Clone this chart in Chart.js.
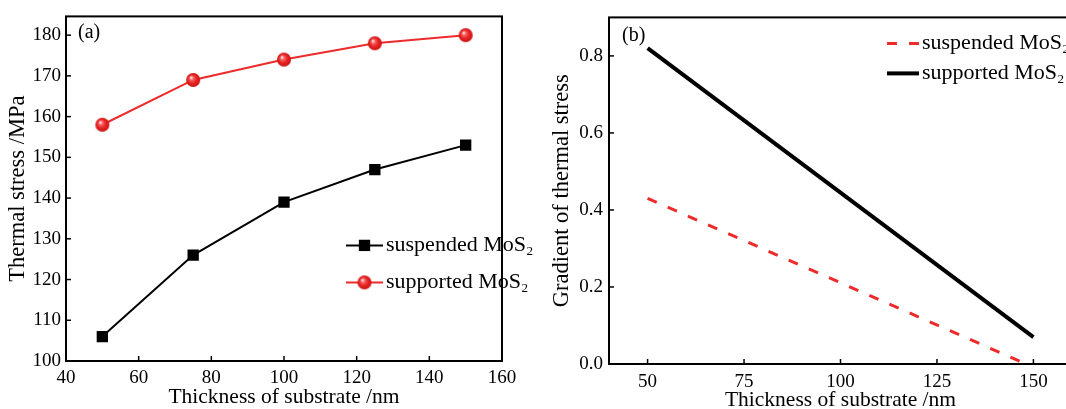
<!DOCTYPE html>
<html>
<head>
<meta charset="utf-8">
<script src="https://cdn.jsdelivr.net/npm/chart.js@4/dist/chart.umd.min.js"></script>
<style>
  html, body { margin: 0; padding: 0; background: #fff; overflow: hidden; width: 1066px; height: 409px; }
  #chartA { position: absolute; left: 0; top: 0; }
  #chartB { position: absolute; left: 540px; top: 0; }
</style>
</head>
<body>
<canvas id="chartA" width="540" height="409"></canvas>
<canvas id="chartB" width="570" height="415"></canvas>
<script>
// panel (a): thermal stress vs substrate thickness
var thickness = [50, 75, 100, 125, 150];
var suspendedStress = [106, 126, 139, 147, 153];
var supportedStress = [158, 169, 174, 178, 180];
var stressTicks = [100, 110, 120, 130, 140, 150, 160, 170, 180];
var thicknessTicksA = [40, 60, 80, 100, 120, 140, 160];

// panel (b): gradient of thermal stress (straight lines, end points)
var gradSuspendedX = [50, 147];
var gradSuspendedY = [0.43, 0.005];
var gradSupportedX = [50, 150];
var gradSupportedY = [0.82, 0.07];
var gradientTicks = [0.0, 0.2, 0.4, 0.6, 0.8];
var thicknessTicksB = [50, 75, 100, 125, 150];

var SERIF = "'Liberation Serif', 'Times New Roman', serif";
var RED = '#ee2b2b';

function pts(xs, ys) {
  return xs.map(function(x, i) { return {x: x, y: ys[i]}; });
}

// shaded red ball marker
function makeBall(r) {
  var c = document.createElement('canvas');
  c.width = c.height = r * 2 + 2;
  var g = c.getContext('2d');
  var cx = r + 1, cy = r + 1;
  var grad = g.createRadialGradient(cx - r * 0.3, cy - r * 0.35, 0.5, cx, cy, r);
  grad.addColorStop(0, '#ffe0e0');
  grad.addColorStop(0.25, '#f46060');
  grad.addColorStop(0.6, '#e82222');
  grad.addColorStop(1, '#c81414');
  g.fillStyle = grad;
  g.beginPath();
  g.arc(cx, cy, r, 0, Math.PI * 2);
  g.fill();
  return c;
}
var ball = makeBall(7);

// frame, inward ticks, panel tag and legend
var decor = {
  id: 'decor',
  afterDraw: function(chart, args, o) {
    var ctx = chart.ctx, a = chart.chartArea;
    ctx.save();
    ctx.strokeStyle = '#000';
    ctx.lineWidth = 2;
    ctx.strokeRect(a.left, a.top, a.right - a.left, a.bottom - a.top);

    // inward tick marks
    ctx.lineWidth = 1.5;
    var xs = chart.scales.x, ys = chart.scales.y;
    xs.ticks.forEach(function(t) {
      var px = xs.getPixelForValue(t.value);
      ctx.beginPath(); ctx.moveTo(px, a.bottom); ctx.lineTo(px, a.bottom - 5); ctx.stroke();
    });
    ys.ticks.forEach(function(t) {
      var py = ys.getPixelForValue(t.value);
      ctx.beginPath(); ctx.moveTo(a.left, py); ctx.lineTo(a.left + 5, py); ctx.stroke();
    });

    // panel label
    ctx.fillStyle = '#000';
    ctx.font = '20px ' + SERIF;
    ctx.textBaseline = 'middle';
    ctx.textAlign = 'left';
    ctx.fillText(o.tag, a.left + o.tagDx, a.top + o.tagDy);

    // legend
    chart.data.datasets.forEach(function(ds, i) {
      var y = a.top + o.legTop + i * o.legGap;
      var x0 = a.right - o.legRight;
      ctx.strokeStyle = ds.borderColor;
      ctx.lineWidth = ds.borderWidth;
      ctx.setLineDash(ds.borderDash || []);
      ctx.beginPath(); ctx.moveTo(x0, y); ctx.lineTo(x0 + o.sampleLen, y); ctx.stroke();
      ctx.setLineDash([]);
      if (ds.pointStyle === 'rect') {
        var s = ds.pointRadius * Math.SQRT2;
        ctx.fillStyle = ds.pointBackgroundColor;
        ctx.fillRect(x0 + o.sampleLen / 2 - s / 2, y - s / 2, s, s);
      } else if (ds.pointStyle && ds.pointStyle.getContext) {
        ctx.drawImage(ds.pointStyle, x0 + o.sampleLen / 2 - ds.pointStyle.width / 2, y - ds.pointStyle.height / 2);
      }
      ctx.fillStyle = '#000';
      ctx.font = o.legFont + 'px ' + SERIF;
      var tx = x0 + o.sampleLen + 3;
      ctx.fillText(ds.label, tx, y);
      var w = ctx.measureText(ds.label).width;
      ctx.font = Math.round(o.legFont * 0.6) + 'px ' + SERIF;
      ctx.fillText('2', tx + w + 0.5, y + 6);
    });
    ctx.restore();
  }
};

function axisTitle(text, size, pad) {
  return {display: true, text: text, color: '#000', font: {family: SERIF, size: size, lineHeight: 1}, padding: pad};
}
function tickFont() {
  return {family: SERIF, size: 19};
}

new Chart(document.getElementById('chartA').getContext('2d'), {
  type: 'line',
  data: {
    datasets: [
      {
        label: 'suspended MoS',
        data: pts(thickness, suspendedStress),
        borderColor: '#000',
        borderWidth: 2,
        pointStyle: 'rect',
        pointRadius: 8,
        pointBackgroundColor: '#000',
        pointBorderWidth: 0
      },
      {
        label: 'supported MoS',
        data: pts(thickness, supportedStress),
        borderColor: RED,
        borderWidth: 2,
        pointStyle: ball,
        pointRadius: 7,
        pointBackgroundColor: RED,
        pointBorderWidth: 0
      }
    ]
  },
  options: {
    responsive: false,
    animation: false,
    layout: {padding: {top: 13, right: 38, left: 0, bottom: 0}},
    plugins: {
      legend: {display: false},
      tooltip: {enabled: false},
      decor: {tag: '(a)', tagDx: 12, tagDy: 16, legTop: 229, legGap: 37, legRight: 156, sampleLen: 37, legFont: 22}
    },
    scales: {
      x: {
        type: 'linear', min: 40, max: 160,
        afterBuildTicks: function(s) { s.ticks = thicknessTicksA.map(function(v) { return {value: v}; }); },
        afterFit: function(s) { s.height = 48; },
        grid: {display: false, drawTicks: false},
        border: {display: false},
        ticks: {color: '#000', font: tickFont(), padding: 6, maxRotation: 0},
        title: axisTitle('Thickness of substrate /nm', 21.5, {top: 0, bottom: 1})
      },
      y: {
        min: 100, max: 184.6,
        afterBuildTicks: function(s) { s.ticks = stressTicks.map(function(v) { return {value: v}; }); },
        afterFit: function(s) { s.width = 66; },
        grid: {display: false, drawTicks: false},
        border: {display: false},
        ticks: {color: '#000', font: tickFont(), padding: 5},
        title: axisTitle('Thermal stress /MPa', 22.5, {top: 7, bottom: 0})
      }
    }
  },
  plugins: [decor]
});

new Chart(document.getElementById('chartB').getContext('2d'), {
  type: 'line',
  data: {
    datasets: [
      {
        label: 'suspended MoS',
        data: pts(gradSuspendedX, gradSuspendedY),
        borderColor: RED,
        borderWidth: 3,
        borderDash: [10, 12],
        pointRadius: 0
      },
      {
        label: 'supported MoS',
        data: pts(gradSupportedX, gradSupportedY),
        borderColor: '#000',
        borderWidth: 4,
        pointRadius: 0
      }
    ]
  },
  options: {
    responsive: false,
    animation: false,
    layout: {padding: {top: 13, right: 38, left: 0, bottom: 0}},
    plugins: {
      legend: {display: false},
      tooltip: {enabled: false},
      decor: {tag: '(b)', tagDx: 13, tagDy: 18, legTop: 26, legGap: 30, legRight: 185, sampleLen: 32, legFont: 22}
    },
    scales: {
      x: {
        type: 'linear', min: 40, max: 160,
        afterBuildTicks: function(s) { s.ticks = thicknessTicksB.map(function(v) { return {value: v}; }); },
        afterFit: function(s) { s.height = 51; },
        grid: {display: false, drawTicks: false},
        border: {display: false},
        ticks: {color: '#000', font: tickFont(), padding: 7, maxRotation: 0},
        title: axisTitle('Thickness of substrate /nm', 21.5, {top: 0, bottom: 4})
      },
      y: {
        min: 0, max: 0.9,
        afterBuildTicks: function(s) { s.ticks = gradientTicks.map(function(v) { return {value: v}; }); },
        afterFit: function(s) { s.width = 69; },
        grid: {display: false, drawTicks: false},
        border: {display: false},
        ticks: {color: '#000', font: tickFont(), padding: 6, callback: function(v) { return v.toFixed(1); }},
        title: axisTitle('Gradient of thermal stress', 22.5, {top: 11, bottom: 0})
      }
    }
  },
  plugins: [decor]
});
</script>
</body>
</html>
